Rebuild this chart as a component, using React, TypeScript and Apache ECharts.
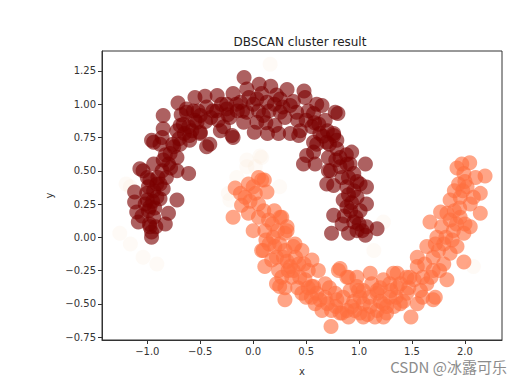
import React, { useEffect, useRef } from "react";
import * as echarts from "echarts";

const chartTitle = "DBSCAN cluster result";
const xTicks = [-1.0, -0.5, 0.0, 0.5, 1.0, 1.5, 2.0];
const yTicks = [-0.75, -0.5, -0.25, 0.0, 0.25, 0.5, 0.75, 1.0, 1.25];

const darkCluster: number[][] = [
  [-0.96, 0.0], [-0.96, 0.04], [-0.975, 0.08], [-0.94, 0.15], [-0.975, 0.23], [-1.085, 0.115], [-1.1, 0.19],
  [-1.12, 0.265], [-1.12, 0.34], [-0.83, 0.1], [-0.8, 0.18], [-0.72, 0.28], [-1.006, 0.33], [-0.91, 0.3],
  [-0.94, 0.35], [-0.85, 0.365], [-0.88, 0.4], [-0.975, 0.43], [-1.04, 0.5], [-0.94, 0.55], [-1.07, 0.515],
  [-0.82, 0.45], [-0.72, 0.5], [-0.61, 0.48], [-0.85, 0.58], [-0.72, 0.6], [-0.785, 0.63], [-0.94, 0.715],
  [-0.69, 0.7], [-0.6, 0.73], [-0.86, 0.75], [-0.96, 0.73], [-0.85, 0.815], [-0.72, 0.8], [-0.61, 0.83],
  [-0.53, 0.865], [-0.5, 0.78], [-0.44, 0.68], [-0.41, 0.7], [-0.85, 0.915], [-0.71, 1.01], [-0.63, 0.965],
  [-0.565, 0.95], [-0.55, 1.05], [-0.455, 1.06], [-0.44, 0.98], [-0.345, 0.95], [-0.34, 1.065], [-0.25, 1.0],
  [-0.22, 0.9], [-0.28, 0.83], [-0.31, 0.8], [-0.19, 0.75], [-0.2, 0.765], [-0.5, 0.915], [-0.63, 0.94],
  [-0.69, 0.84], [-0.6, 0.765], [-0.5, 0.79], [-0.25, 0.965], [-0.19, 1.08], [-0.086, 1.2], [-0.06, 1.115],
  [-0.12, 1.015], [0.035, 1.04], [0.056, 1.15], [0.13, 1.015], [0.166, 1.135], [0.255, 1.04], [0.32, 1.11],
  [0.35, 0.99], [0.48, 1.1], [0.49, 1.05], [0.41, 0.94], [0.255, 0.94], [0.095, 0.915], [-0.06, 0.94],
  [-0.09, 0.865], [0.035, 0.865], [0.205, 0.84], [0.01, 0.79], [0.135, 0.78], [0.24, 0.78], [0.35, 0.78],
  [0.43, 0.765], [0.445, 0.8], [0.555, 0.83], [0.63, 0.78], [0.65, 0.99], [0.57, 0.93], [0.68, 0.88],
  [0.775, 0.94], [0.8, 0.93], [0.76, 0.78], [0.76, 0.765], [0.79, 0.73], [0.695, 0.715], [0.57, 0.715],
  [0.6, 0.7], [0.79, 0.665], [0.505, 0.615], [0.57, 0.64], [0.71, 0.6], [0.475, 0.55], [0.585, 0.55],
  [0.71, 0.5], [0.73, 0.5], [0.82, 0.53], [0.885, 0.55], [0.915, 0.55], [0.93, 0.64], [1.06, 0.55],
  [0.95, 0.48], [0.695, 0.4], [0.76, 0.39], [0.885, 0.38], [1.01, 0.4], [1.07, 0.377], [0.85, 0.28],
  [0.98, 0.3], [1.07, 0.25], [1.01, 0.2], [0.885, 0.23], [0.76, 0.165], [0.84, 0.1], [0.95, 0.115],
  [1.07, 0.08], [0.74, 0.03], [0.9, 0.03], [1.06, 0.015], [1.03, 0.05], [1.17, 0.065], [-0.99, 0.2],
  [-0.93, 0.22], [-1.02, 0.25], [-0.88, 0.29], [-1.05, 0.16], [-0.99, 0.38], [-0.91, 0.4], [-0.8, 0.55],
  [-0.75, 0.68], [-0.65, 0.78], [-0.55, 0.88], [-0.4, 0.9], [-0.3, 1.0], [-0.15, 0.95], [0.0, 1.0],
  [0.15, 0.95], [0.3, 0.9], [0.5, 0.88], [0.62, 0.85], [0.7, 0.8], [0.82, 0.6], [0.9, 0.45], [0.95, 0.35],
  [0.92, 0.2], [0.97, 0.15],
  [-0.98, 0.1], [-0.92, 0.08], [-1.0, 0.28], [-0.95, 0.27], [-0.9, 0.45], [-0.86, 0.5], [-0.78, 0.52],
  [-0.83, 0.62], [-0.76, 0.7], [-0.7, 0.74], [-0.66, 0.85], [-0.58, 0.8], [-0.52, 0.95], [-0.45, 0.87],
  [-0.38, 0.95], [-0.33, 0.88], [-0.24, 0.92], [-0.16, 1.0], [-0.1, 0.95], [-0.04, 1.05], [0.05, 0.95],
  [0.08, 1.08], [0.2, 1.0], [0.22, 1.07], [0.28, 0.98], [0.38, 1.02], [0.42, 0.88], [0.52, 0.95],
  [0.58, 0.86], [0.66, 0.76], [0.72, 0.7], [0.78, 0.58], [0.84, 0.45], [0.88, 0.62], [0.9, 0.32],
  [0.93, 0.26], [0.98, 0.42], [1.0, 0.1], [0.98, 0.05], [0.86, 0.16], [-1.0, 0.45], [-0.88, 0.7],
  [-0.68, 0.92], [0.12, 0.86], [0.6, 1.0],
];

const orangeCluster: number[][] = [
  [-0.17, 0.37], [-0.045, 0.4], [0.05, 0.45], [0.105, 0.43], [0.08, 0.43], [0.13, 0.34], [0.02, 0.33],
  [-0.077, 0.3], [-0.11, 0.24], [-0.19, 0.15], [-0.045, 0.18], [0.05, 0.15], [0.145, 0.13], [0.27, 0.15],
  [0.255, 0.15], [0.0, 0.05], [0.11, 0.05], [0.19, 0.0], [0.32, 0.05], [0.32, 0.08], [0.3, 0.03],
  [0.08, -0.1], [0.095, -0.1], [0.11, -0.22], [0.205, -0.07], [0.3, -0.1], [0.38, -0.07], [0.395, -0.05],
  [0.46, -0.1], [0.285, -0.15], [0.175, -0.17], [0.555, -0.17], [0.43, -0.2], [0.35, -0.22], [0.33, -0.25],
  [0.24, -0.25], [0.27, -0.3], [0.365, -0.3], [0.44, -0.3], [0.22, -0.35], [0.25, -0.37], [0.49, -0.32],
  [0.52, -0.25], [0.615, -0.25], [0.555, -0.37], [0.57, -0.37], [0.46, -0.42], [0.3, -0.47], [0.585, -0.5],
  [0.63, -0.47], [0.68, -0.35], [0.775, -0.42], [0.79, -0.47], [0.74, -0.55], [0.84, -0.57], [0.82, -0.57],
  [0.885, -0.55], [0.93, -0.52], [0.735, -0.67], [0.805, -0.25], [0.82, -0.235], [0.9, -0.3], [0.885, -0.3],
  [0.98, -0.3], [0.98, -0.37], [0.995, -0.4], [0.915, -0.4], [1.01, -0.45], [1.04, -0.4], [1.04, -0.5],
  [1.01, -0.57], [1.04, -0.6], [1.105, -0.52], [1.105, -0.27], [1.17, -0.4], [1.17, -0.42], [1.17, -0.55],
  [1.23, -0.32], [1.23, -0.5], [1.23, -0.6], [1.26, -0.52], [1.26, -0.57], [1.29, -0.45], [1.29, -0.35],
  [1.325, -0.27], [1.36, -0.27], [1.39, -0.35], [1.39, -0.5], [1.45, -0.42], [1.45, -0.3], [1.48, -0.3],
  [1.49, -0.6], [1.55, -0.5], [1.55, -0.22], [1.55, -0.15], [1.58, -0.4], [1.64, -0.35], [1.64, -0.07],
  [1.67, 0.115], [1.7, -0.15], [1.7, -0.25], [1.72, -0.45], [1.7, -0.47], [1.735, 0.0], [1.77, 0.19],
  [1.8, -0.05], [1.8, -0.2], [1.83, -0.32], [1.83, 0.18], [1.86, -0.12], [1.86, 0.13], [1.86, 0.28],
  [1.89, 0.05], [1.925, -0.07], [1.99, -0.185], [1.99, 0.03], [1.955, 0.15], [1.955, 0.3], [2.05, 0.08],
  [2.05, 0.25], [2.145, 0.18], [2.145, 0.33], [2.02, 0.38], [1.94, 0.4], [1.99, 0.48], [1.925, 0.52],
  [2.045, 0.56], [2.19, 0.46], [0.6, -0.42], [0.7, -0.5], [0.95, -0.48], [1.1, -0.45], [1.35, -0.45],
  [1.6, -0.3], [1.75, -0.1], [1.9, 0.2], [2.0, 0.1], [0.2, 0.2], [0.15, -0.05], [0.4, -0.15], [0.5, -0.45],
  [0.65, -0.55], [1.3, -0.4], [1.2, -0.48],
  [-0.12, 0.33], [0.0, 0.38], [0.05, 0.25], [-0.03, 0.27], [0.1, 0.2], [0.18, 0.1], [0.23, 0.05],
  [0.12, -0.02], [0.25, -0.05], [0.22, -0.15], [0.32, -0.18], [0.38, -0.25], [0.3, -0.38], [0.42, -0.38],
  [0.48, -0.2], [0.52, -0.38], [0.55, -0.45], [0.68, -0.45], [0.72, -0.38], [0.78, -0.52], [0.85, -0.45],
  [0.9, -0.6], [0.96, -0.55], [1.08, -0.58], [1.12, -0.35], [1.15, -0.6], [1.2, -0.38], [1.33, -0.52],
  [1.36, -0.38], [1.42, -0.48], [1.47, -0.38], [1.52, -0.32], [1.6, -0.45], [1.62, -0.2], [1.68, -0.3],
  [1.72, -0.05], [1.76, -0.25], [1.78, 0.08], [1.82, 0.0], [1.88, -0.02], [1.92, 0.1], [1.95, 0.22],
  [1.98, 0.35], [2.0, 0.42], [2.08, 0.3], [1.9, 0.35], [2.1, 0.45], [1.97, 0.55],
];

const noisePoints: number[][] = [
  [-1.26, 0.03], [-1.16, -0.05], [-1.04, -0.15], [-0.91, -0.2], [-1.16, 0.38], [-1.2, 0.4], [-0.22, 0.28],
  [-0.235, 0.33], [-0.155, 0.45], [-0.06, 0.58], [-0.06, 0.53], [0.065, 0.61], [0.02, 0.53], [0.08, 0.6],
  [0.25, 0.38], [0.16, 1.3], [1.23, 0.115], [1.14, -0.1], [2.08, -0.22],
];

const fmt = (v: number, d: number) => (v < 0 ? "\u2212" + Math.abs(v).toFixed(d) : v.toFixed(d));

export default function App() {
  const ref = useRef<HTMLDivElement>(null);
  useEffect(() => {
    document.body.style.margin = "0";
    const chart = echarts.init(ref.current!, undefined, { renderer: "svg" });
    const font = "DejaVu Sans";
    chart.setOption({
      animation: false,
      backgroundColor: "#ffffff",
      title: {
        text: chartTitle,
        left: 295,
        top: 31,
        textAlign: "center",
        textStyle: { fontFamily: font, fontSize: 12, fontWeight: "normal", color: "#222" },
      },
      grid: {
        left: 102,
        right: 23,
        top: 51,
        bottom: 44,
        show: true,
        borderColor: "#333",
        borderWidth: 1,
        backgroundColor: "transparent",
      },
      xAxis: {
        type: "value",
        min: -1.428,
        max: 2.35,
        name: "x",
        nameLocation: "middle",
        nameGap: 26,
        nameTextStyle: { fontFamily: font, fontSize: 10, color: "#333" },
        splitLine: { show: false },
        axisLine: { show: true, onZero: false, lineStyle: { color: "#333" } },
        axisTick: { show: true, length: 4, customValues: xTicks, lineStyle: { color: "#333" } },
        axisLabel: {
          customValues: xTicks,
          margin: 6,
          fontFamily: font,
          fontSize: 10,
          color: "#333",
          formatter: (v: number) => fmt(v, 1),
        },
      },
      yAxis: {
        type: "value",
        min: -0.772,
        max: 1.4,
        name: "y",
        nameLocation: "middle",
        nameGap: 46,
        nameTextStyle: { fontFamily: font, fontSize: 10, color: "#333" },
        splitLine: { show: false },
        axisLine: { show: true, onZero: false, lineStyle: { color: "#333" } },
        axisTick: { show: true, length: 4, customValues: yTicks, lineStyle: { color: "#333" } },
        axisLabel: {
          customValues: yTicks,
          margin: 6,
          fontFamily: font,
          fontSize: 10,
          color: "#333",
          formatter: (v: number) => fmt(v, 2),
        },
      },
      series: [
        {
          type: "scatter",
          name: "noise",
          data: noisePoints,
          symbol: "circle",
          symbolSize: 15,
          itemStyle: { color: "#fce6d4", opacity: 0.22 },
        },
        {
          type: "scatter",
          name: "cluster 0",
          data: darkCluster,
          symbol: "circle",
          symbolSize: 15,
          itemStyle: { color: "#7a0000", opacity: 0.62 },
        },
        {
          type: "scatter",
          name: "cluster 1",
          data: orangeCluster,
          symbol: "circle",
          symbolSize: 15,
          itemStyle: { color: "#ff6e3e", opacity: 0.62 },
        },
      ],
      graphic: [
        {
          type: "text",
          right: 18,
          top: 359,
          style: {
            text: "CSDN @冰露可乐",
            fontFamily: "Noto Sans CJK SC",
            fontSize: 15,
            fill: "#8c8c8c",
          },
        },
      ],
    });
    return () => chart.dispose();
  }, []);
  return <div ref={ref} style={{ width: 525, height: 384 }} />;
}
